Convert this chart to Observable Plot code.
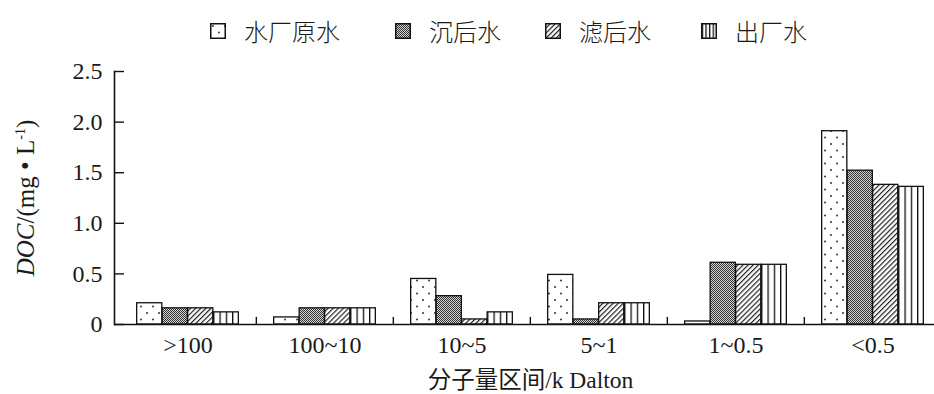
<!DOCTYPE html>
<html>
<head>
<meta charset="utf-8">
<script src="https://cdn.jsdelivr.net/npm/d3@7"></script>
<script src="https://cdn.jsdelivr.net/npm/@observablehq/plot@0.6"></script>
<style>
  html, body { margin: 0; padding: 0; background: #fff; }
  body { width: 934px; height: 394px; overflow: hidden; font-family: "Liberation Serif", "Noto Sans CJK SC", serif; color: #1a1a1a; }
  #legend { height: 50px; position: relative; display: flex; align-items: center; padding-left: 210px; padding-top: 12px; box-sizing: border-box; }
  .item { display: flex; align-items: center; }
  .item svg { margin-right: 18px; display: block; }
  .item span { font-size: 24px; line-height: 24px; font-family: "Noto Sans CJK SC", sans-serif; font-weight: 300; }
</style>
</head>
<body>
<svg width="0" height="0" style="position:absolute">
  <defs>
    <pattern id="pDots" patternUnits="userSpaceOnUse" width="12" height="13">
      <rect width="12" height="13" fill="#fff"/>
      <circle cx="3" cy="3" r="1" fill="#333"/>
      <circle cx="9" cy="9.5" r="1" fill="#333"/>
    </pattern>
    <pattern id="pCheck" patternUnits="userSpaceOnUse" width="2" height="2">
      <rect width="2" height="2" fill="#d4d4d4"/>
      <rect x="0" y="0" width="1" height="1" fill="#333"/>
      <rect x="1" y="1" width="1" height="1" fill="#333"/>
    </pattern>
    <pattern id="pDiag" patternUnits="userSpaceOnUse" width="3.6" height="10" patternTransform="rotate(45)">
      <rect width="3.6" height="10" fill="#fff"/>
      <rect x="0" y="0" width="1.2" height="10" fill="#222"/>
    </pattern>
    <pattern id="pVert" patternUnits="objectBoundingBox" width="0.25" height="1">
      <rect x="0" y="0" width="1.3" height="2000" fill="#111"/>
    </pattern>
  </defs>
</svg>
<div id="legend"></div>
<div id="chart"></div>
<script>
// ---- data ----
const groups = [">100", "100~10", "10~5", "5~1", "1~0.5", "<0.5"];
const seriesNames = ["水厂原水", "沉后水", "滤后水", "出厂水"];
const rawWater      = [0.21, 0.07, 0.45, 0.49, 0.03, 1.91];
const settledWater  = [0.16, 0.16, 0.28, 0.05, 0.61, 1.52];
const filteredWater = [0.16, 0.16, 0.05, 0.21, 0.59, 1.38];
const finishedWater = [0.12, 0.16, 0.12, 0.21, 0.59, 1.36];
const yTicks = [0, 0.5, 1.0, 1.5, 2.0, 2.5];
const xTitle = "分子量区间/k Dalton";
const yTitle = "DOC/(mg • L-1)";

const seriesValues = [rawWater, settledWater, filteredWater, finishedWater];
const patterns = ["url(#pDots)", "url(#pCheck)", "url(#pDiag)", "url(#pVert)"];
const legendGaps = [55, 44, 50, 0];

const rows = seriesNames.flatMap((s, i) => groups.map((g, j) => ({series: s, group: g, value: seriesValues[i][j]})));

// ---- legend ----
const legend = d3.select("#legend");
seriesNames.forEach((s, i) => {
  const it = legend.append("div").attr("class", "item").style("margin-right", legendGaps[i] + "px");
  const sw = it.append("svg").attr("width", 16).attr("height", 16);
  sw.append("rect").attr("x", 0.75).attr("y", 0.75).attr("width", 14.5).attr("height", 14.5)
    .attr("fill", patterns[i]).attr("stroke", "#111").attr("stroke-width", 1.5);
  it.append("span").text(s);
});

// ---- chart ----
const x0 = 118, x1 = 942;
const bw = (x1 - x0) / groups.length;
const barW = 25.5;
const off = (bw - barW * 4) / 2;

const bars = seriesNames.map((s, i) =>
  Plot.barY(rows.filter(d => d.series === s), {
    x: "group", y: "value",
    fill: patterns[i], stroke: "#111", strokeWidth: 1.3,
    insetLeft: off + i * barW, insetRight: bw - off - (i + 1) * barW
  })
);

const chart = Plot.plot({
  width: 934,
  height: 344,
  marginTop: 21,
  marginBottom: 70,
  marginLeft: 114,
  marginRight: 0,
  style: {fontFamily: "'Liberation Serif', 'Noto Sans CJK SC', serif", color: "#1a1a1a", background: "#fff", overflow: "visible"},
  x: {domain: groups, range: [x0, x1], padding: 0},
  y: {domain: [0, 2.5]},
  marks: [
    ...bars,
    Plot.ruleY([0], {stroke: "#111", strokeWidth: 1.6}),
    Plot.frame({anchor: "left", stroke: "#111", strokeWidth: 1.6}),
    Plot.ruleX(groups.slice(1), {x: d => d, y1: 0, y2: 0.07, dx: -bw / 2, stroke: "#111", strokeWidth: 1.4}),
    Plot.axisY(yTicks, {tickSize: 10, dx: 10, text: null, stroke: "#111", strokeWidth: 1.4, label: null}),
    Plot.axisY(yTicks, {tickSize: 0, tickPadding: 12, fontSize: 24, label: null,
      tickFormat: d => d === 0 ? "0" : d.toFixed(1)}),
    Plot.axisX({tickSize: 0, tickPadding: 11, fontSize: 24, label: null}),
    Plot.text([xTitle], {frameAnchor: "bottom", lineAnchor: "middle", textAnchor: "middle", dy: 56, dx: 6, fontSize: 23.5, text: d => d}),
    Plot.text([yTitle], {frameAnchor: "left", lineAnchor: "middle", textAnchor: "middle", dx: -89, dy: 0, rotate: -90, fontSize: 25, text: d => d})
  ]
});
document.getElementById("chart").appendChild(chart);

// italic DOC and superscript -1 in the y title
d3.select(chart).selectAll("text").each(function() {
  if (this.textContent === yTitle) {
    const t = d3.select(this);
    t.text(null);
    t.append("tspan").attr("font-style", "italic").text("DOC");
    t.append("tspan").text("/(mg • L");
    t.append("tspan").attr("dy", -9).attr("font-size", 14).text("-1");
    t.append("tspan").attr("dy", 9).text(")");
  }
});
</script>
</body>
</html>
